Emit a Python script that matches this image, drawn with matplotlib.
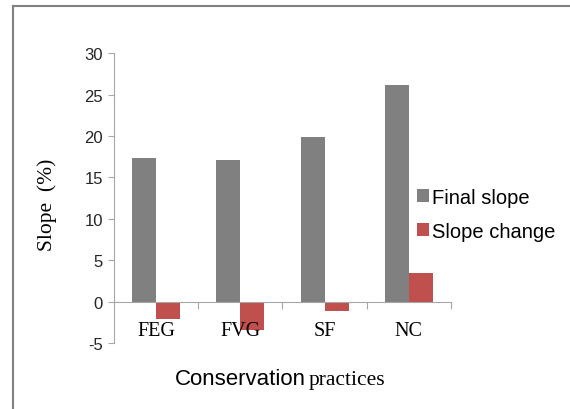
import matplotlib.pyplot as plt
import numpy as np
from matplotlib.lines import Line2D

plt.rcParams["axes.unicode_minus"] = False

# practices and measured slopes (%)
practices = ["FEG", "FVG", "SF", "NC"]
final_slope = [17.3, 17.1, 19.9, 26.2]
slope_change = [-2.1, -3.4, -1.1, 3.4]

gray = "#808080"
red = "#C0504D"
axis_col = "#A6A6A6"

fig = plt.figure(figsize=(5.7, 4.1), dpi=100)
ax = fig.add_axes([0.2, 0.161, 0.591, 0.707])

x = np.arange(len(practices))
w = 0.285
ax.bar(x - w / 2, final_slope, w, color=gray, label="Final slope")
ax.bar(x + w / 2, slope_change, w, color=red, label="Slope change")

ax.set_xlim(-0.5, len(practices) - 0.5)
ax.set_ylim(-5, 30)
ax.set_yticks(range(-5, 31, 5))

# category axis crosses at zero
for s in ["top", "right"]:
    ax.spines[s].set_visible(False)
ax.spines["bottom"].set_position(("data", 0))
ax.spines["bottom"].set_color(axis_col)
ax.spines["left"].set_color(axis_col)

ax.set_xticks(np.arange(0.5, len(practices), 1.0))
ax.set_xticklabels([])
ax.tick_params(axis="x", which="major", direction="out", length=5, color=axis_col)
ax.set_xticks(x, minor=True)
ax.set_xticklabels(practices, minor=True, family="Liberation Serif", fontsize=14.5)
ax.tick_params(axis="x", which="minor", length=0, pad=14)

ax.tick_params(axis="y", direction="out", length=4, color=axis_col,
               labelsize=12, labelcolor="#262626", pad=4)
for lab in ax.get_yticklabels():
    lab.set_family("Liberation Sans")

fig.text(0.082, 0.5, "Slope  (%)", rotation=90, ha="center", va="center",
         family="Liberation Serif", fontsize=15.5)
fig.text(0.536, 0.06, "Conservation", ha="right", va="baseline",
         family="Liberation Sans", fontsize=16)
fig.text(0.542, 0.06, "practices", ha="left", va="baseline",
         family="Liberation Serif", fontsize=15.5)

ax.legend(loc="center left", bbox_to_anchor=(0.7, 0.475), bbox_transform=fig.transFigure,
          frameon=False, handlelength=0.6, handleheight=0.6, handletextpad=0.15,
          labelspacing=0.75, prop={"family": "Liberation Sans", "size": 14.5})

# outer frame
fig.add_artist(Line2D([0.0228, 0.0228], [0.0, 0.983], color=gray, lw=1.5))
fig.add_artist(Line2D([0.0228, 1.0], [0.983, 0.983], color=gray, lw=1.5))

fig.savefig("out.png", dpi=100)
